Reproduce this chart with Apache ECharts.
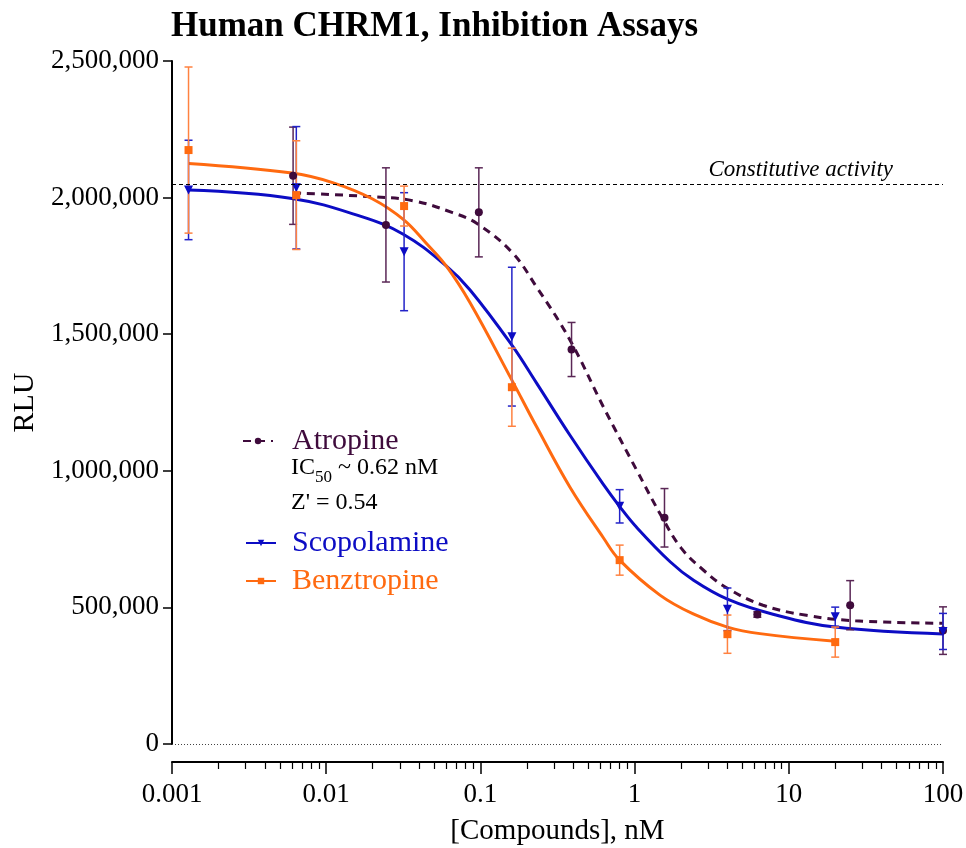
<!DOCTYPE html>
<html>
<head>
<meta charset="utf-8">
<script src="https://cdn.jsdelivr.net/npm/echarts@6/dist/echarts.min.js"></script>
<style>html,body{margin:0;padding:0;background:#fff;}#c{width:966px;height:848px;}</style>
</head>
<body>
<div id="c"></div>
<script>
// ---- data ----
const xTickLabels = ['0.001', '0.01', '0.1', '1', '10', '100'];
const constitutiveActivity = 2050000;

const atropineX    = [0.0061, 0.0244, 0.0977, 0.39, 1.5625, 6.25, 25, 100];
const atropineMean = [2080000, 1900000, 1946000, 1444000, 828000, 474000, 508000, 415000];
const atropineErr  = [178000, 209000, 163000, 99000, 107000, 10000, 90000, 87000];

const scopolamineX    = [0.00128, 0.0064, 0.032, 0.16, 0.8, 4, 20, 100];
const scopolamineMean = [2028000, 2036000, 1802000, 1491000, 870000, 493000, 466000, 412000];
const scopolamineErr  = [182000, 224000, 216000, 254000, 61000, 78000, 35000, 66000];

const benztropineX    = [0.00128, 0.0064, 0.032, 0.16, 0.8, 4, 20];
const benztropineMean = [2174000, 2009000, 1969000, 1306000, 673000, 402000, 373000];
const benztropineErr  = [304000, 199000, 73000, 143000, 55000, 70000, 55000];

// fitted curves
const atropineCurveX = [0.0061, 0.02, 0.037, 0.066, 0.095, 0.16, 0.23, 0.38, 0.63, 1.03, 1.5, 2.0, 2.8, 4.0, 6.8, 13, 27, 100];
const atropineCurveY = [2017000, 2003000, 1988000, 1945000, 1905000, 1800000, 1675000, 1480000, 1232000, 1003000, 832000, 718000, 636000, 570000, 508000, 471000, 451000, 442000];

const scopolamineCurveX = [0.00128, 0.006, 0.0166, 0.0316, 0.06, 0.0857, 0.16, 0.232, 0.381, 0.627, 0.8, 1.03, 1.7, 2.4, 4.0, 8.0, 20, 100];
const scopolamineCurveY = [2028000, 1997000, 1932000, 1866000, 1750000, 1662000, 1460000, 1320000, 1130000, 950000, 869000, 793000, 667000, 600000, 530000, 474000, 428000, 403000];

const benztropineCurveX = [0.00128, 0.006, 0.011, 0.02, 0.0316, 0.045, 0.06, 0.0857, 0.16, 0.232, 0.381, 0.627, 0.8, 1.46, 2.4, 4.0, 6.5, 20];
const benztropineCurveY = [2125000, 2090000, 2055000, 1995000, 1920000, 1830000, 1750000, 1615000, 1332000, 1160000, 940000, 755000, 673000, 545000, 476000, 428000, 404000, 376000];

// ---- styles ----
const FONT = 'Liberation Serif';
const C_ATR = '#3f0b3c', C_ATR_BAR = '#5a2756';
const C_SCO = '#0c0cc4', C_SCO_BAR = '#2323c8';
const C_BEN = '#ff6a10', C_BEN_BAR = '#ff8240';

function zip(xs, ys) { return xs.map((x, i) => [x, ys[i]]); }
function errData(xs, m, e) { return xs.map((x, i) => [x, m[i] - e[i], m[i] + e[i]]); }
function errSeries(name, xs, m, e, color) {
  return {
    name: name, type: 'custom', z: 3, silent: true,
    data: errData(xs, m, e),
    renderItem: function (params, api) {
      const x = api.value(0);
      const top = api.coord([x, api.value(2)]);
      const bot = api.coord([x, api.value(1)]);
      const hw = 4;
      const st = { stroke: color, lineWidth: 1.5 };
      return { type: 'group', children: [
        { type: 'line', shape: { x1: top[0], y1: top[1], x2: bot[0], y2: bot[1] }, style: st },
        { type: 'line', shape: { x1: top[0] - hw, y1: top[1], x2: top[0] + hw, y2: top[1] }, style: st },
        { type: 'line', shape: { x1: bot[0] - hw, y1: bot[1], x2: bot[0] + hw, y2: bot[1] }, style: st }
      ]};
    }
  };
}

// minor tick positions of the log axis (in decades)
const minorTicks = [];
for (let d = -3; d < 2; d++) for (let k = 2; k <= 9; k++) minorTicks.push(d + Math.log10(k));

const chart = echarts.init(document.getElementById('c'), null, { renderer: 'canvas' });
const option = {
  animation: false,
  backgroundColor: '#fff',
  title: {
    text: 'Human CHRM1, Inhibition Assays', left: 166, top: 4,
    textStyle: { fontFamily: FONT, fontSize: 35, fontWeight: 'bold', color: '#000' }
  },
  grid: { left: 172, right: 23, top: 61, bottom: 104, containLabel: false, outerBoundsMode: 'none' },
  xAxis: [{
    type: 'log', logBase: 10, min: 0.001, max: 100, position: 'bottom', offset: 18,
    axisLine: { show: true, onZero: false, lineStyle: { color: '#000', width: 2 } },
    axisTick: { show: true, length: 12, lineStyle: { color: '#000', width: 1.5 } },
    axisLabel: { margin: 19, fontFamily: FONT, fontSize: 27, color: '#000',
      formatter: function (v) { const i = Math.round(Math.log10(v)) + 3; return xTickLabels[i]; } },
    splitLine: { show: false },
    name: '[Compounds], nM', nameLocation: 'middle', nameGap: 55,
    nameTextStyle: { fontFamily: FONT, fontSize: 29, color: '#000' }
  }, {
    type: 'value', min: -3, max: 2, position: 'bottom', offset: 18,
    axisLine: { show: false, onZero: false },
    axisTick: { show: true, length: 7, customValues: minorTicks, lineStyle: { color: '#000', width: 1.2 } },
    axisLabel: { show: false }, splitLine: { show: false }
  }],
  yAxis: {
    type: 'value', min: 0, max: 2500000, interval: 500000,
    axisLine: { show: true, onZero: false, lineStyle: { color: '#000', width: 2 } },
    axisTick: { show: true, length: 9, lineStyle: { color: '#000', width: 1.5 } },
    axisLabel: { margin: 13, fontFamily: FONT, fontSize: 27, color: '#000',
      formatter: function (v) { return v.toLocaleString('en-US'); } },
    splitLine: { show: false },
    name: 'RLU', nameLocation: 'middle', nameGap: 132,
    nameTextStyle: { fontFamily: FONT, fontSize: 30, color: '#000' }
  },
  legend: [{
    data: [{ name: 'Atropine', textStyle: { color: C_ATR } }],
    left: 237, top: 421, itemWidth: 30, itemHeight: 8,
    textStyle: { fontFamily: FONT, fontSize: 30, padding: [0, 0, 0, 14] },
    selectedMode: false
  }, {
    data: [{ name: 'Scopolamine', textStyle: { color: C_SCO } }, { name: 'Benztropine', textStyle: { color: C_BEN } }],
    orient: 'vertical', left: 240, top: 523, itemGap: 8, itemWidth: 30, itemHeight: 8,
    textStyle: { fontFamily: FONT, fontSize: 30, padding: [0, 0, 0, 11] },
    selectedMode: false
  }],
  graphic: [{
    type: 'text', left: 291, top: 456,
    style: {
      text: '{a|IC}{s|50}{a| ~ 0.62 nM}',
      rich: {
        a: { fontFamily: FONT, fontSize: 24, fill: '#000', lineHeight: 30, verticalAlign: 'bottom' },
        s: { fontFamily: FONT, fontSize: 17, fill: '#000', lineHeight: 30, verticalAlign: 'bottom', padding: [0, 0, -6, 0] }
      }
    }
  }, {
    type: 'text', left: 291, top: 491,
    style: { text: "Z' = 0.54", font: '24px "Liberation Serif"', fill: '#000' }
  }],
  series: [
    {
      name: 'Atropine', type: 'line', smooth: 0.4, showSymbol: false, symbol: 'circle', z: 2,
      data: zip(atropineCurveX, atropineCurveY),
      lineStyle: { color: C_ATR, width: 3, type: [8, 6] }, itemStyle: { color: C_ATR },
      markLine: {
        silent: true, symbol: 'none', animation: false,
        data: [
          { yAxis: constitutiveActivity, lineStyle: { color: '#000', width: 1.2, type: [4, 3] },
            label: { show: true, formatter: 'Constitutive activity', position: 'insideEndTop',
              fontFamily: FONT, fontStyle: 'italic', fontSize: 23, color: '#000', padding: [0, 48, 0, 0], distance: 2 } },
          { yAxis: 0, lineStyle: { color: '#444', width: 1, type: [1, 2] }, label: { show: false } }
        ]
      }
    },
    {
      name: 'Scopolamine', type: 'line', smooth: 0.4, showSymbol: false, symbol: 'triangle', symbolRotate: 180, z: 2,
      data: zip(scopolamineCurveX, scopolamineCurveY),
      lineStyle: { color: C_SCO, width: 3 }, itemStyle: { color: C_SCO }
    },
    {
      name: 'Benztropine', type: 'line', smooth: 0.4, showSymbol: false, symbol: 'rect', z: 2,
      data: zip(benztropineCurveX, benztropineCurveY),
      lineStyle: { color: C_BEN, width: 3 }, itemStyle: { color: C_BEN }
    },
    errSeries('Atropine SD', atropineX, atropineMean, atropineErr, C_ATR_BAR),
    errSeries('Scopolamine SD', scopolamineX, scopolamineMean, scopolamineErr, C_SCO_BAR),
    errSeries('Benztropine SD', benztropineX, benztropineMean, benztropineErr, C_BEN_BAR),
    { name: 'Atropine data', type: 'scatter', symbol: 'circle', symbolSize: 8, z: 4,
      data: zip(atropineX, atropineMean), itemStyle: { color: C_ATR, opacity: 1 } },
    { name: 'Scopolamine data', type: 'scatter', symbol: 'triangle', symbolRotate: 180, symbolSize: 9, z: 4,
      data: zip(scopolamineX, scopolamineMean), itemStyle: { color: C_SCO, opacity: 1 } },
    { name: 'Benztropine data', type: 'scatter', symbol: 'rect', symbolSize: 8, z: 4,
      data: zip(benztropineX, benztropineMean), itemStyle: { color: C_BEN, opacity: 1 } }
  ]
};
chart.setOption(option);
</script>
</body>
</html>
